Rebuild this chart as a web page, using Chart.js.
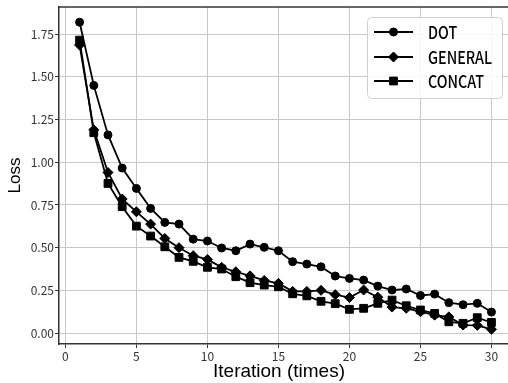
<!DOCTYPE html>
<html>
<head>
<meta charset="utf-8">
<script src="https://cdn.jsdelivr.net/npm/chart.js@4"></script>
<style>
  html, body { margin: 0; padding: 0; background: #fff; overflow: hidden; }
  #wrap { width: 508px; height: 383px; overflow: hidden; }
</style>
</head>
<body>
<div id="wrap"><canvas id="lossChart" width="515" height="383"></canvas></div>
<script>
// Datos (loss por iteracion)
const iterations = [1,2,3,4,5,6,7,8,9,10,11,12,13,14,15,16,17,18,19,20,21,22,23,24,25,26,27,28,29,30];
const dotLoss = [1.82,1.45,1.16,0.966,0.847,0.73,0.648,0.638,0.55,0.539,0.498,0.482,0.521,0.502,0.482,0.418,0.404,0.388,0.334,0.32,0.31,0.275,0.252,0.258,0.22,0.228,0.178,0.166,0.174,0.123];
const generalLoss = [1.686,1.19,0.94,0.785,0.71,0.638,0.554,0.50,0.453,0.431,0.385,0.359,0.335,0.308,0.291,0.244,0.244,0.25,0.225,0.208,0.252,0.21,0.152,0.145,0.125,0.105,0.095,0.047,0.045,0.022];
const concatLoss = [1.715,1.173,0.876,0.74,0.626,0.568,0.505,0.443,0.42,0.385,0.375,0.33,0.295,0.281,0.271,0.23,0.218,0.186,0.172,0.139,0.145,0.174,0.193,0.16,0.135,0.115,0.066,0.057,0.09,0.062];
const nombres = ['DOT', 'GENERAL', 'CONCAT'];
const xTicks = [0, 5, 10, 15, 20, 25, 30];
const yTicks = [0, 0.25, 0.5, 0.75, 1.0, 1.25, 1.5, 1.75];
const tituloX = 'Iteration (times)';

const marcas = [
    { style: 'circle', radius: 4 },
    { style: 'rectRot', radius: 5 },
    { style: 'rect', radius: 5.5 }
];
const series = [dotLoss, generalLoss, concatLoss];

const datasets = series.map((vals, i) => ({
    label: nombres[i],
    data: iterations.map((x, j) => ({ x: x, y: vals[j] })),
    borderColor: '#000',
    backgroundColor: '#000',
    borderWidth: 1.8,
    pointStyle: marcas[i].style,
    pointRadius: marcas[i].radius,
    pointBorderWidth: 1,
    pointHoverRadius: marcas[i].radius,
    tension: 0
}));

// leyenda, titulo x y borde superior a mano (linea + marcador como matplotlib)
const extras = {
    id: 'extras',
    afterDraw(chart) {
        const ctx = chart.ctx;
        const a = chart.chartArea;
        ctx.save();
        ctx.strokeStyle = '#333';
        ctx.lineWidth = 1.5;
        ctx.beginPath();
        ctx.moveTo(a.left, a.top);
        ctx.lineTo(a.right, a.top);
        ctx.stroke();

        // titulo del eje x
        ctx.fillStyle = '#000';
        ctx.font = '19px "Liberation Sans", Arial';
        ctx.textAlign = 'center';
        ctx.textBaseline = 'alphabetic';
        ctx.fillText(tituloX, 279, 377);

        // caja de la leyenda
        const bx = 367, by = 17, bw = 135, bh = 81, r = 4;
        ctx.fillStyle = 'rgba(255,255,255,0.85)';
        ctx.strokeStyle = '#d0d0d0';
        ctx.lineWidth = 1;
        ctx.beginPath();
        ctx.roundRect(bx + 0.5, by + 0.5, bw, bh, r);
        ctx.fill();
        ctx.stroke();

        ctx.font = '500 17px "Noto Sans CJK SC", "DejaVu Sans"';
        const escala = 64 / ctx.measureText('GENERAL').width;
        const rows = [32, 57, 81];
        chart.data.datasets.forEach((ds, i) => {
            const y = rows[i];
            ctx.strokeStyle = '#000';
            ctx.lineWidth = 1.8;
            ctx.beginPath();
            ctx.moveTo(374, y);
            ctx.lineTo(413, y);
            ctx.stroke();
            ctx.fillStyle = '#000';
            ctx.lineWidth = 1;
            Chart.helpers.drawPoint(ctx, { pointStyle: ds.pointStyle, radius: ds.pointRadius, borderWidth: 1, rotation: 0 }, 393.5, y);
            ctx.save();
            ctx.translate(428, y + 1);
            ctx.scale(escala, 1);
            ctx.fillStyle = '#000';
            ctx.textBaseline = 'middle';
            ctx.textAlign = 'left';
            ctx.fillText(ds.label, 0, 0);
            ctx.restore();
        });
        ctx.restore();
    }
};

const fijarTicks = (lista) => (scale) => {
    scale.ticks = lista.map(v => ({ value: v }));
};

const lossConfig = {
    type: 'line',
    data: { datasets: datasets },
    plugins: [extras],
    options: {
        responsive: false,
        animation: false,
        events: [],
        layout: { padding: { top: 7, right: 0, left: 0, bottom: 0 } },
        plugins: {
            legend: { display: false },
            tooltip: { enabled: false }
        },
        scales: {
            x: {
                type: 'linear',
                min: -0.45,
                max: 31.2,
                afterBuildTicks: fijarTicks(xTicks),
                afterFit(scale) {
                    scale.height = 39;
                },
                grid: {
                    color: '#c8c8c8',
                    lineWidth: 1,
                    drawTicks: true,
                    tickLength: 4,
                    tickColor: '#333'
                },
                border: { color: '#333', width: 1.5 },
                ticks: {
                    color: '#333',
                    padding: 1,
                    maxRotation: 0,
                    font: { family: '"Noto Sans CJK SC", "DejaVu Sans"', size: 12 },
                    callback: (v) => String(v)
                },
                title: { display: false }
            },
            y: {
                type: 'linear',
                min: -0.064,
                max: 1.909,
                afterBuildTicks: fijarTicks(yTicks),
                afterFit(scale) {
                    scale.width = 59;
                    scale.paddingTop = 0;
                    scale.paddingBottom = 0;
                },
                grid: {
                    color: '#c8c8c8',
                    lineWidth: 1,
                    drawTicks: true,
                    tickLength: 4,
                    tickColor: '#333'
                },
                border: { color: '#333', width: 1.5 },
                ticks: {
                    color: '#333',
                    padding: 1,
                    font: { family: '"Noto Sans CJK SC", "DejaVu Sans"', size: 12 },
                    callback: (v) => Number(v).toFixed(2)
                },
                title: {
                    display: true,
                    text: 'Loss',
                    color: '#000',
                    font: { family: '"Liberation Sans", Arial', size: 17 },
                    padding: { top: 5, bottom: 2 }
                }
            }
        }
    }
};

const lossChart = new Chart(
    document.getElementById('lossChart'),
    lossConfig
);
</script>
</body>
</html>
